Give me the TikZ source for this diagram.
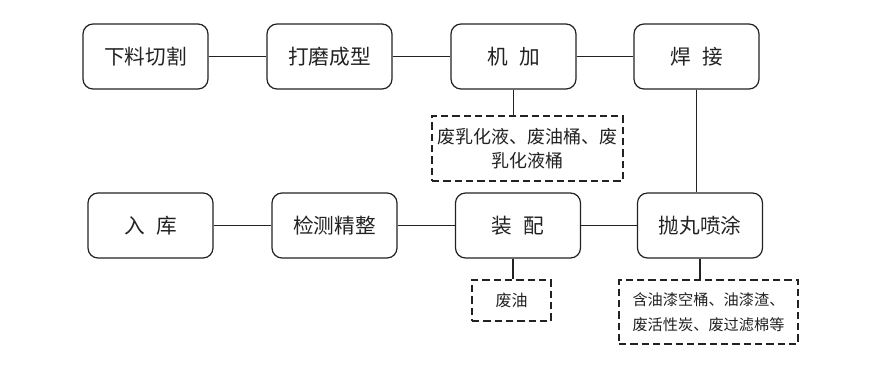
\documentclass[tikz,border=0pt]{standalone}
\usepackage{fontspec}
\setmainfont{Noto Sans CJK SC}
\usetikzlibrary{positioning}
\definecolor{FlowInk}{HTML}{222222}
\tikzset{
  stepbox/.style={draw=FlowInk, text=FlowInk, rounded corners=7.5pt, line width=0.9pt,
    minimum width=93.75pt, minimum height=48.75pt, inner sep=1pt,
    font=\fontsize{15.5}{18}\selectfont},
  wastebox/.style={draw=FlowInk, text=FlowInk, dash pattern=on 5.5pt off 3pt, line width=1.6pt,
    align=center, inner sep=1pt},
  link/.style={draw=FlowInk, line width=0.8pt}
}

\begin{document}
\begin{tikzpicture}[x=0.75pt, y=-0.75pt]
  \useasboundingbox (0,0) rectangle (888,365);
  % first row
  \node[stepbox] (xialiao) at (145.5,56.5) {下料切割};
  \node[stepbox] (damo) at (329.5,56.5) {打磨成型};
  \node[stepbox] (jijia) at (513.5,56.5) {机\hspace{0.55em}加};
  \node[stepbox] (hanjie) at (696.5,56.5) {焊\hspace{0.55em}接};
  % second row
  \node[stepbox] (ruku) at (150.5,225.5) {入\hspace{0.55em}库};
  \node[stepbox] (jiance) at (334.5,225.5) {检测精整};
  \node[stepbox] (zhuangpei) at (518,225.5) {装\hspace{0.55em}配};
  \node[stepbox] (paowan) at (700,225.5) {抛丸喷涂};
  % waste
  \node[wastebox, minimum width=143.25pt, minimum height=48.75pt,
    font=\fontsize{13.5}{18}\selectfont] (waste1) at (527.5,148.5)
    {废乳化液、废油桶、废\\乳化液桶};
  \node[wastebox, minimum width=59.25pt, minimum height=30.75pt,
    font=\fontsize{12}{18}\selectfont] (waste2) at (511.5,300.5) {废油};
  \node[wastebox, minimum width=134.25pt, minimum height=48pt,
    font=\fontsize{11.4}{18.75}\selectfont] (waste3) at (708.5,312)
    {含油漆空桶、油漆渣、\\废活性炭、废过滤棉等};

  \draw[link] (xialiao) -- (damo);
  \draw[link] (damo) -- (jijia);
  \draw[link] (jijia) -- (hanjie);
  \draw[link] (ruku) -- (jiance);
  \draw[link] (jiance) -- (zhuangpei);
  \draw[link] (zhuangpei) -- (paowan);
  \draw[link] (hanjie.south) -- (hanjie.south |- paowan.north);
  \draw[link] (jijia.south) -- (jijia.south |- waste1.north);
  \coordinate (zpfoot) at ([xshift=-3.75pt]zhuangpei.south);
  \draw[link] (zpfoot) -- (zpfoot |- waste2.north);
  \draw[link] (paowan.south) -- (paowan.south |- waste3.north);
\end{tikzpicture}
\end{document}
